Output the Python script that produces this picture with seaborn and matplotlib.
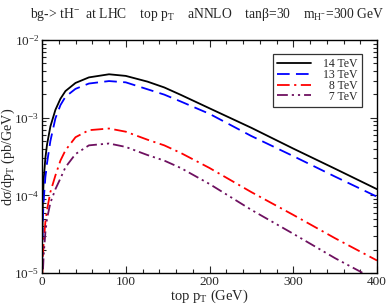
import matplotlib
matplotlib.use("Agg")
import matplotlib.pyplot as plt
from matplotlib.ticker import MultipleLocator, LogLocator, NullFormatter, FixedLocator
import seaborn as sns
import pandas as pd

# ---- data ----
pt = [0.3, 1, 2, 4, 6, 10, 16, 22, 28, 40, 56, 80, 100, 126, 146, 166, 200, 250, 300, 350, 400]
tev14 = [2.5e-5, 8e-5, 1.6e-4, 3.0e-4, 4.5e-4, 7.7e-4, 1.26e-3, 1.75e-3, 2.2e-3, 2.8e-3,
         3.3e-3, 3.62e-3, 3.45e-3, 2.91e-3, 2.45e-3, 1.96e-3, 1.32e-3, 7.4e-4, 4.0e-4, 2.2e-4, 1.2e-4]
tev13 = [1.5e-5, 5e-5, 8.5e-5, 1.7e-4, 2.6e-4, 5e-4, 9.8e-4, 1.45e-3, 1.86e-3, 2.35e-3,
         2.75e-3, 2.96e-3, 2.85e-3, 2.32e-3, 1.98e-3, 1.61e-3, 1.12e-3, 5.8e-4, 3.2e-4, 1.74e-4, 9.6e-5]
tev8 = [8e-6, 1.6e-5, 2.5e-5, 4.5e-5, 6.5e-5, 1.1e-4, 1.8e-4, 2.8e-4, 3.8e-4, 5.6e-4,
        6.9e-4, 7.25e-4, 6.6e-4, 5.2e-4, 4.4e-4, 3.5e-4, 2.25e-4, 1.1e-4, 5.6e-5, 2.8e-5, 1.45e-5]
tev7 = [5e-6, 1e-5, 1.7e-5, 3.3e-5, 5e-5, 8e-5, 1.2e-4, 1.65e-4, 2.3e-4, 3.4e-4,
        4.4e-4, 4.65e-4, 4.2e-4, 3.3e-4, 2.8e-4, 2.24e-4, 1.4e-4, 6.5e-5, 3.2e-5, 1.55e-5, 8e-6]
labels = ["14 TeV", "13 TeV", "8 TeV", "7 TeV"]
series = [tev14, tev13, tev8, tev7]
colors = ["#000000", "#0000ff", "#ff0000", "#6e1060"]
styles = ["-", (0, (7, 3.5)), (0, (7, 2.5, 1.2, 2.5)), (0, (6, 2.2, 1.2, 2.2, 1.2, 2.2))]

sns.set_style("ticks")
plt.rcParams["font.family"] = ["Liberation Serif", "DejaVu Serif"]
plt.rcParams["mathtext.fontset"] = "custom"
plt.rcParams["mathtext.rm"] = "Liberation Serif"
plt.rcParams["mathtext.it"] = "Liberation Serif:italic"
plt.rcParams["mathtext.default"] = "regular"

fig = plt.figure(figsize=(3.91, 3.05), dpi=100)
ax = fig.add_axes([42 / 391, 1 - 273 / 305, (377 - 42) / 391, (273 - 40) / 305])

for lab, ys, c, ls in zip(labels, series, colors, styles):
    df = pd.DataFrame({"pt": pt, "val": ys})
    sns.lineplot(data=df, x="pt", y="val", ax=ax, color=c, linestyle=ls,
                 linewidth=1.3, label=lab, estimator=None)

ax.set_yscale("log")
ax.set_xlim(0, 400)
ax.set_ylim(1e-5, 1e-2)
ax.xaxis.set_major_locator(MultipleLocator(100))
ax.xaxis.set_minor_locator(MultipleLocator(20))
ax.yaxis.set_major_locator(FixedLocator([1e-5, 1e-4, 1e-3, 1e-2]))
ax.yaxis.set_minor_locator(LogLocator(base=10, subs=range(2, 10)))
ax.yaxis.set_minor_formatter(NullFormatter())
ax.set_yticklabels(["$10^{-5}$", "$10^{-4}$", "$10^{-3}$", "$10^{-2}$"])
ax.tick_params(which="both", direction="in", top=True, right=True, labelsize=9.5, pad=2)
ax.tick_params(which="major", length=5, width=0.8)
ax.tick_params(which="minor", length=3, width=0.8)
for s in ax.spines.values():
    s.set_linewidth(1.0)
    s.set_color("black")

ax.set_xlabel("top $p_T$ (GeV)", fontsize=10.5, labelpad=0)
ax.set_ylabel("d\u03c3/d$p_T$ (pb/GeV)", fontsize=10.2)
ax.yaxis.set_label_coords(-0.076, 0.5)

fig.text(0.531, 0.951, "bg-> tH$^{-}$  at LHC    top $p_T$    aNNLO    tan\u03b2=30    $m_{H^{-}}$=300 GeV",
         ha="center", va="center", fontsize=9.8)

# right-aligned legend labels: pad single-digit labels with a figure space
handles, labs = ax.get_legend_handles_labels()
padded = [("\u2007" + l) if len(l.split()[0]) == 1 else l for l in labs]
leg = ax.legend(handles, padded, loc="upper right",
                bbox_to_anchor=((362 - 42) / 335, (273 - 54) / 233),
                borderaxespad=0, fontsize=8.5,
                frameon=True, fancybox=False, handlelength=2.9, labelspacing=-0.1,
                borderpad=0.35, handletextpad=1.0, markerfirst=True)
leg.get_frame().set_edgecolor("black")
leg.get_frame().set_linewidth(0.9)

fig.savefig("out.png", dpi=100)
